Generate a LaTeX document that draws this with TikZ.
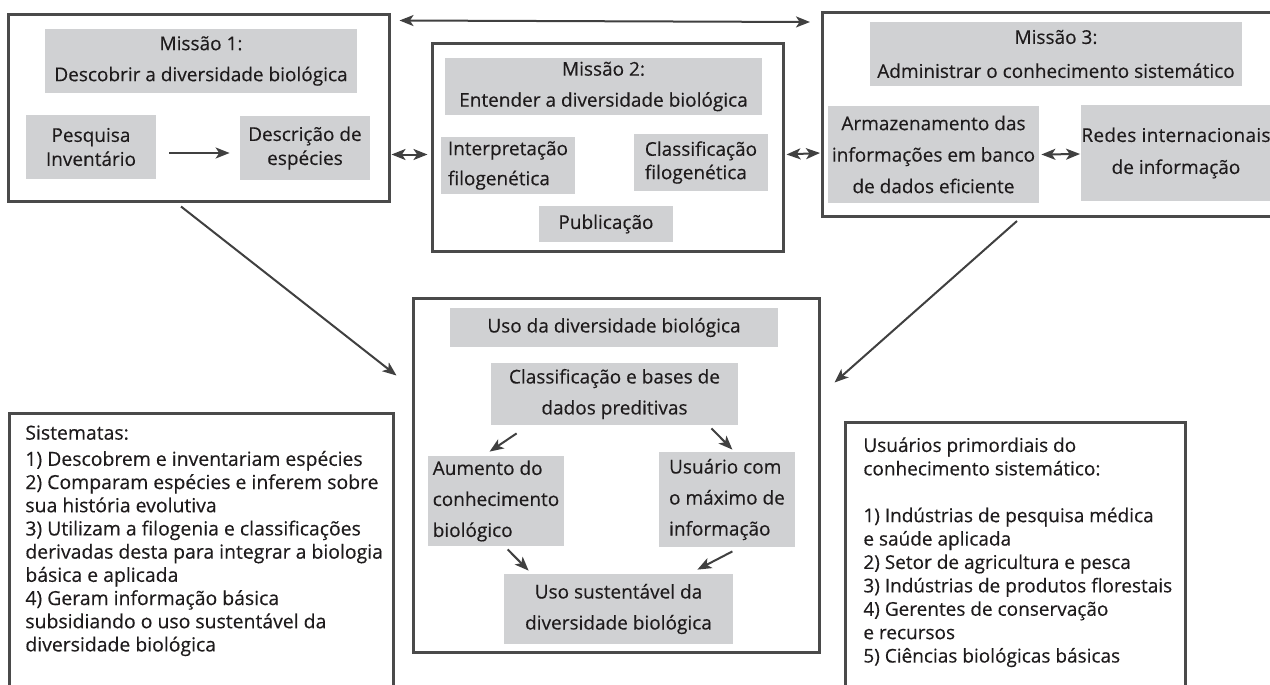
\documentclass[tikz,border=0pt]{standalone}
\usepackage{fontspec}
\setmainfont{Open Sans}
\usetikzlibrary{arrows.meta,calc}
\definecolor{boxgray}{HTML}{D0D1D3}
\definecolor{linegray}{HTML}{4A4A4A}
\definecolor{arrgray}{HTML}{404040}
\definecolor{txt}{HTML}{1E1B1C}
\newcommand{\fsz}[1]{\fontsize{9.5pt}{#1}\selectfont\addfontfeature{FakeBold=0.3}}
\newcommand{\fszl}[1]{\fontsize{9.7pt}{#1}\selectfont\addfontfeature{FakeBold=0.3}}
\begin{document}
\begin{tikzpicture}[x=0.5pt,y=-0.5pt,
  frame/.style={draw=linegray, line width=1.5pt, inner sep=0pt},
  gbox/.style={fill=boxgray, inner sep=0pt, align=center, text=txt},
  lbox/.style={gbox, align=left},
  arr/.style={draw=arrgray, line width=1pt, -{Stealth[length=7pt,width=5.5pt,inset=1.8pt]}},
  darr/.style={draw=arrgray, line width=1pt, {Stealth[length=7pt,width=5.5pt,inset=1.8pt]}-{Stealth[length=7pt,width=5.5pt,inset=1.8pt]}},
  plain/.style={inner sep=0pt, align=left, text=txt, anchor=north west}
]
\useasboundingbox (0,0) rectangle (1270,685);
\fill[white] (0,0) rectangle (1270,685);

% ---- Missao 1
\node[frame, minimum width=190.5pt, minimum height=93.5pt] (m1) at (198.5,107.5) {};
\node[gbox, minimum width=156pt, minimum height=32pt, font=\fsz{15.5pt}] (t1) at (201,61) {Missão 1:\\Descobrir a diversidade biológica};
\node[gbox, minimum width=65pt, minimum height=32pt, font=\fsz{12pt}] (p1) at (91,147) {Pesquisa\\Inventário};
\node[gbox, minimum width=65pt, minimum height=32pt, font=\fsz{12pt}] (d1) at (305,148) {Descrição de\\espécies};

% ---- Missao 2
\node[frame, minimum width=175.5pt, minimum height=104pt] (m2) at (607.5,147) {};
\node[gbox, minimum width=158.5pt, minimum height=28.5pt, font=\fsz{15.5pt}] (t2) at (603.5,86.5) {Missão 2:\\Entender a diversidade biológica};
\node[lbox, minimum width=67pt, minimum height=28.5pt, font=\fsz{15pt}] (i2) at (508,165.5) {Interpretação\\filogenética};
\node[lbox, minimum width=67pt, minimum height=28.5pt, font=\fsz{11.7pt}] (c2) at (701,162.5) {Classificação\\filogenética};
\node[gbox, minimum width=67pt, minimum height=18pt, font=\fsz{12pt}] (pub) at (606,224) {Publicação};

% ---- Missao 3
\coordinate (m3nw) at (822,12);
\coordinate (m3sw) at (822,216);
\draw[draw=linegray, line width=1.5pt] (1271,12) -- (m3nw) -- (m3sw) -- (1271,216);
\node[gbox, minimum width=186pt, minimum height=32pt, font=\fsz{17pt}] (t3) at (1056,54) {Missão 3:\\Administrar o conhecimento sistemático};
\node[gbox, minimum width=105.5pt, minimum height=48.5pt, font=\fsz{15.75pt}] (a3) at (933.5,154.5) {Armazenamento das\\informações em banco\\de dados eficiente};
\node[gbox, minimum width=94pt, minimum height=48pt, font=\fsz{16pt}] (r3) at (1176,153) {{\addfontfeature{LetterSpace=1.5}Redes internacionais}\\de informação};

% ---- Uso
\node[frame, minimum width=203pt, minimum height=177pt] (use) at (616,475) {};
\node[gbox, minimum width=164pt, minimum height=19.5pt, font=\fsz{12pt}] (u) at (614,327.5) {Uso da diversidade biológica};
\node[gbox, minimum width=123.5pt, minimum height=31pt, font=\fsz{15.5pt}] (cb) at (614.5,394) {Classificação e bases de\\dados preditivas};
\node[lbox, minimum width=68pt, minimum height=45pt, font=\fsz{15.5pt}] (au) at (496,501) {Aumento do\\conhecimento\\biológico};
\node[lbox, minimum width=68pt, minimum height=47.5pt, font=\fsz{15.5pt}] (us) at (727,499.5) {Usuário com\\o máximo de\\informação};
\node[gbox, minimum width=114.5pt, minimum height=35pt, font=\fsz{15.5pt}] (ss) at (618.5,609) {Uso sustentável da\\diversidade biológica};

% ---- bottom boxes
\coordinate (blnw) at (9,413);
\coordinate (blne) at (393,413);
\draw[draw=linegray, line width=1.5pt] (9,686) -- (blnw) -- (blne) -- (393,686);
\node[plain, font=\fszl{11.6pt}] (sis) at (25,425) {Sistematas:\\[1.5pt]
1) Descobrem e inventariam espécies\\
2) Comparam espécies e inferem sobre\\
sua história evolutiva\\
3) Utilizam a filogenia e classificações\\
derivadas desta para integrar a biologia\\
básica e aplicada\\
4) Geram informação básica\\
subsidiando o uso sustentável da\\
diversidade biológica};

\coordinate (brnw) at (845,422);
\coordinate (brne) at (1185,422);
\draw[draw=linegray, line width=1.5pt] (845,686) -- (brnw) -- (brne) -- (1185,686);
\node[plain, font=\fsz{11.7pt}] (usr) at (863,437) {Usuários primordiais do\\
conhecimento sistemático:\\[11.7pt]
1) Indústrias de pesquisa médica\\
e saúde aplicada\\
2) Setor de agricultura e pesca\\
3) Indústrias de produtos florestais\\
4) Gerentes de conservação\\
e recursos\\
5) Ciências biológicas básicas};

% ---- connectors
\draw[arr] ($(p1.east)+(13,6)$) -- ($(d1.west)+(-10,5)$);
\draw[darr] ($(m1.south east)+(1,-48)$) -- ($(m2.south west)+(-3,-98)$);
\draw[darr] ($(m2.south east)+(2,-98)$) -- ($(m3sw)+(-2,-63)$);
\draw[darr] ($(a3.east)+(2,0)$) -- ($(r3.west)+(-1,1)$);
\draw[darr] ($(m1.north east)+(9,8)$) -- ($(m3nw)+(-12,10)$);
\draw[arr] ($(m1.south)+(-17.5,4)$) -- ($(use.north west)+(-15,79)$);
\draw[arr] ($(m3sw)+(195,5)$) -- ($(use.north east)+(14,86)$);
\draw[arr] ($(cb.south west)+(26,8)$) -- ($(au.north west)+(62,-4)$);
\draw[arr] ($(cb.south east)+(-27,3)$) -- ($(us.north east)+(-63,-2)$);
\draw[arr] ($(au.south west)+(80,3)$) -- ($(ss.north west)+(25,-3)$);
\draw[arr] ($(us.south east)+(-63,4)$) -- ($(ss.north east)+(-36,-4)$);
\end{tikzpicture}
\end{document}
